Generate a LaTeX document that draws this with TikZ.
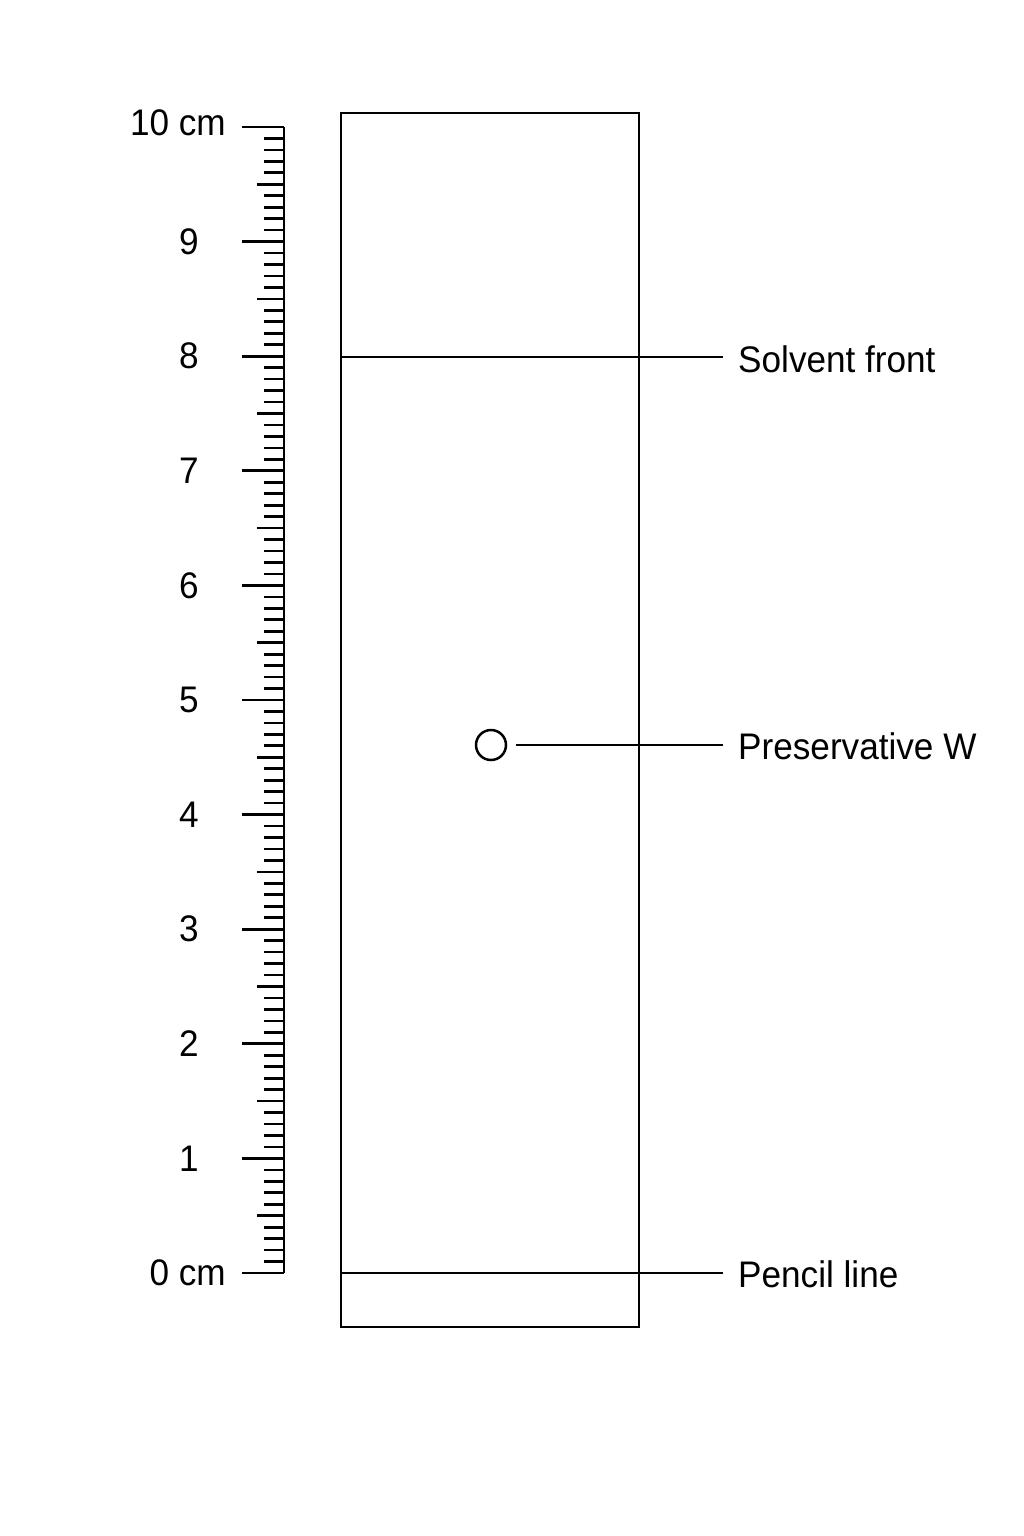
\documentclass[tikz,border=0pt]{standalone}
\usepackage{fontspec}
\setmainfont[FakeStretch=0.95]{Liberation Sans}
\usepackage{tikz}
\usetikzlibrary{calc,positioning}
\tikzset{
    x=1pt,y=-1pt,semithick,
    rule/.style = {line width=2.7pt},
    plate/.style = {draw, line width=2.5pt, inner sep=0pt, minimum width=298pt, minimum height=1214pt},
    spot/.style = {circle, draw, line width=2.5pt, inner sep=0pt, minimum size=30pt},
    lead/.style = {line width=2.5pt},
    lbl/.style = {anchor=west, inner xsep=15pt, inner ysep=0pt, font=\fontsize{37}{44}\selectfont},
    num/.style = {inner sep=0pt, font=\fontsize{37}{44}\selectfont}
}
\begin{document}
\begin{tikzpicture}
	\useasboundingbox[fill=white] (0,0) rectangle (1024,1536);
	% ruler
	\draw[rule] (284,127) -- (284,1273);
	\foreach \i in {0,...,100}{
		\pgfmathsetmacro\tickx{mod(\i,10)==0 ? 242 : (mod(\i,5)==0 ? 257 : 264)}
		\draw[rule] (\tickx,1273-11.46*\i) -- (284,1273-11.46*\i);
	}
	\foreach \k in {1,...,9}
		\node[num] (n\k) at (189,1273-114.6*\k) {\k};
	\node[num, anchor=east] (n10) at (226,123) {10 cm};
	\node[num, anchor=east] (n0) at (226,1273) {0 cm};
	% plate
	\node[plate] (plate) at (490,720) {};
	\coordinate (sf) at (341,357);
	\coordinate (pl) at (341,1273);
	\node[spot] (w) at (491,745) {};
	\node[lbl] (front) at (723,359) {Solvent front};
	\node[lbl] (presW) at (723,746) {Preservative W};
	\node[lbl] (pencil) at (723,1274) {Pencil line};
	\draw[lead] (sf) -- (sf -| front.west);
	\draw[lead, shorten <=9pt] (w) -- (w -| presW.west);
	\draw[lead] (pl) -- (pl -| pencil.west);
\end{tikzpicture}
\end{document}
